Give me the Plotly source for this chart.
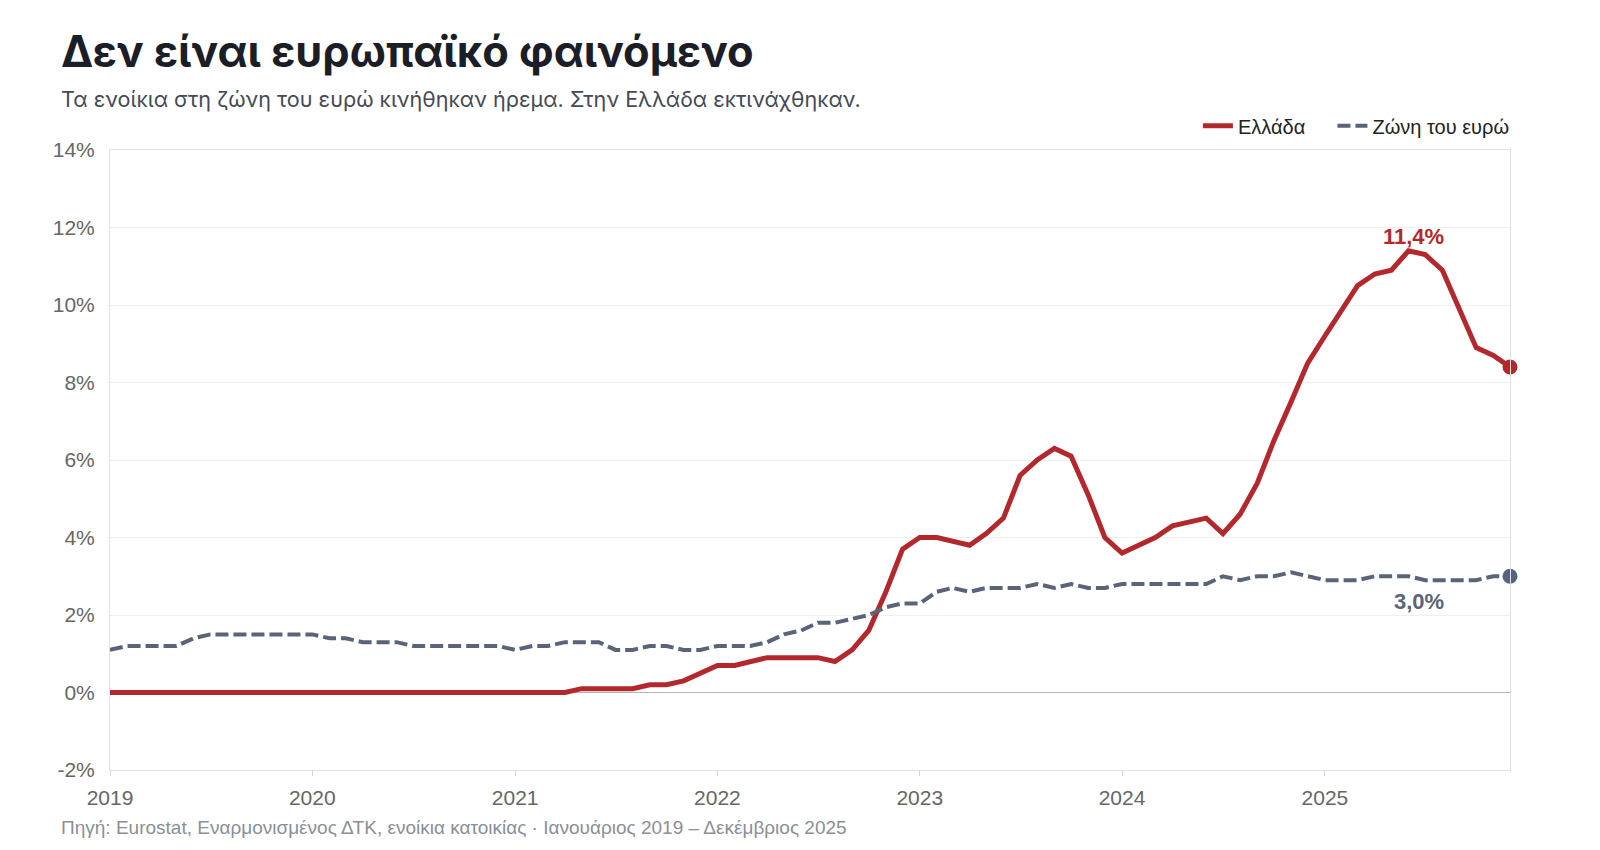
import pandas as pd
import plotly.graph_objects as go

# μηνιαία δεδομένα, Ιαν 2019 - Δεκ 2025 (ετήσια μεταβολή %)
months = pd.date_range("2019-01-01", "2025-12-01", freq="MS")

greece = [
    0, 0, 0, 0, 0, 0, 0, 0, 0, 0, 0, 0,
    0, 0, 0, 0, 0, 0, 0, 0, 0, 0, 0, 0,
    0, 0, 0, 0, 0.1, 0.1, 0.1, 0.1, 0.2, 0.2, 0.3, 0.5,
    0.7, 0.7, 0.8, 0.9, 0.9, 0.9, 0.9, 0.8, 1.1, 1.6, 2.6, 3.7,
    4.0, 4.0, 3.9, 3.8, 4.1, 4.5, 5.6, 6.0, 6.3, 6.1, 5.1, 4.0,
    3.6, 3.8, 4.0, 4.3, 4.4, 4.5, 4.1, 4.6, 5.4, 6.5, 7.5, 8.5,
    9.2, 9.9, 10.5, 10.8, 10.9, 11.4, 11.3, 10.9, 9.9, 8.9, 8.7, 8.4,
]

euro_area = [
    1.1, 1.2, 1.2, 1.2, 1.2, 1.4, 1.5, 1.5, 1.5, 1.5, 1.5, 1.5,
    1.5, 1.4, 1.4, 1.3, 1.3, 1.3, 1.2, 1.2, 1.2, 1.2, 1.2, 1.2,
    1.1, 1.2, 1.2, 1.3, 1.3, 1.3, 1.1, 1.1, 1.2, 1.2, 1.1, 1.1,
    1.2, 1.2, 1.2, 1.3, 1.5, 1.6, 1.8, 1.8, 1.9, 2.0, 2.2, 2.3,
    2.3, 2.6, 2.7, 2.6, 2.7, 2.7, 2.7, 2.8, 2.7, 2.8, 2.7, 2.7,
    2.8, 2.8, 2.8, 2.8, 2.8, 2.8, 3.0, 2.9, 3.0, 3.0, 3.1, 3.0,
    2.9, 2.9, 2.9, 3.0, 3.0, 3.0, 2.9, 2.9, 2.9, 2.9, 3.0, 3.0,
]

y_ticks = [-2, 0, 2, 4, 6, 8, 10, 12, 14]
y_labels = [f"{v}%" for v in y_ticks]

RED = "#b3282d"
GRAY = "#5a6478"
FONT = "Liberation Sans, Arial, sans-serif"
HEAD_FONT = "Inter, Liberation Sans, Arial, sans-serif"


def pct(v):
    return f"{v:.1f}".replace(".", ",") + "%"


fig = go.Figure()

# τα \u00a0 δίνουν λίγο κενό ανάμεσα στα στοιχεία του υπομνήματος
fig.add_trace(go.Scatter(
    x=months, y=greece, mode="lines", name="Ελλάδα\u00a0\u00a0\u00a0\u00a0",
    line=dict(color=RED, width=5),
))
fig.add_trace(go.Scatter(
    x=months, y=euro_area, mode="lines", name="Ζώνη του ευρώ",
    line=dict(color=GRAY, width=4, dash="13px,5px"),
))

# τελικά σημεία
fig.add_trace(go.Scatter(
    x=[months[-1]], y=[greece[-1]], mode="markers", showlegend=False,
    marker=dict(color=RED, size=15), hoverinfo="skip", cliponaxis=False,
))
fig.add_trace(go.Scatter(
    x=[months[-1]], y=[euro_area[-1]], mode="markers", showlegend=False,
    marker=dict(color=GRAY, size=15), hoverinfo="skip", cliponaxis=False,
))

# ετικέτες κορυφής / τελευταίας τιμής
peak = greece.index(max(greece))
fig.add_annotation(
    x=months[peak], y=greece[peak], text=f"<b>{pct(greece[peak])}</b>",
    showarrow=False, yanchor="bottom", yshift=0, xshift=5,
    font=dict(family=FONT, size=22, color=RED),
)
fig.add_annotation(
    x=months[-6], y=euro_area[-1], text=f"<b>{pct(euro_area[-1])}</b>",
    showarrow=False, yanchor="top", yshift=-11, xshift=-6,
    font=dict(family=FONT, size=22, color=GRAY),
)

# τίτλος, υπότιτλος, πηγή
fig.add_annotation(
    xref="paper", yref="paper", x=-0.0365, y=1.159,
    xanchor="left", yanchor="middle", showarrow=False,
    text="<b>Δεν είναι ευρωπαϊκό φαινόμενο</b>",
    font=dict(family=HEAD_FONT, size=43.4, color="#1b1e26"),
)
fig.add_annotation(
    xref="paper", yref="paper", x=-0.0365, y=1.082,
    xanchor="left", yanchor="middle", showarrow=False,
    text="Τα ενοίκια στη ζώνη του ευρώ κινήθηκαν ήρεμα. Στην Ελλάδα εκτινάχθηκαν.",
    font=dict(family=HEAD_FONT, size=21.6, color="#454b55"),
)
fig.add_annotation(
    xref="paper", yref="paper", x=-0.0365, y=-0.092,
    xanchor="left", yanchor="middle", showarrow=False,
    text="Πηγή: Eurostat, Εναρμονισμένος ΔΤΚ, ενοίκια κατοικίας · Ιανουάριος 2019 – Δεκέμβριος 2025",
    font=dict(family=FONT, size=19, color="#8a8f98"),
)

fig.update_layout(
    width=1600, height=850,
    margin=dict(l=102, r=98, t=142, b=88),
    paper_bgcolor="white", plot_bgcolor="white",
    font=dict(family=FONT, color="#666"),
    showlegend=True,
    legend=dict(
        orientation="h", x=1.0035, xanchor="right", y=1.039, yanchor="middle",
        font=dict(family=FONT, size=20, color="#222"),
        bgcolor="rgba(0,0,0,0)",
    ),
    hovermode="x unified",
)

fig.update_xaxes(
    range=[months[0], months[-1]],
    tickformat="%Y", dtick="M12", tick0="2019-01-01",
    ticks="outside", ticklen=5, tickcolor="#d5d5d5", ticklabelstandoff=4,
    showgrid=False, showline=True, linecolor="#e2e2e2", mirror=True,
    tickfont=dict(family=FONT, size=21, color="#666"),
)
fig.update_yaxes(
    range=[-2, 14], tickvals=y_ticks, ticktext=y_labels,
    showgrid=True, gridcolor="#efefef", ticklabelstandoff=10,
    zeroline=True, zerolinecolor="#b5b5b5", zerolinewidth=1,
    showline=True, linecolor="#e2e2e2", mirror=True,
    tickfont=dict(family=FONT, size=21, color="#666"),
)

fig.write_html("out.html", config={"displayModeBar": False})
